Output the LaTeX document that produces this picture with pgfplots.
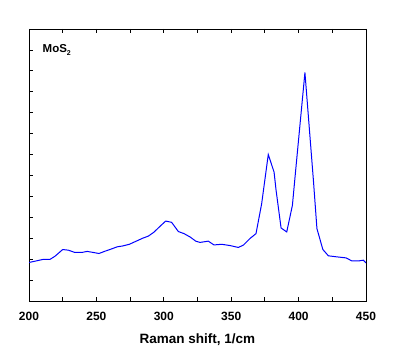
\documentclass[border=0pt]{standalone}
\usepackage{pgfplots}
\pgfplotsset{compat=1.18}
\usepackage{fontspec}
\setmainfont{Liberation Sans}
\begin{document}
\begin{tikzpicture}
\begin{axis}[name=ax,
  scale only axis, width=337pt, height=272pt,
  xmin=200, xmax=450, ymin=0, ymax=13,
  xtick={200,250,...,450}, minor xtick={225,275,...,425},
  ytick={0,1,...,13}, yticklabels={},
  xtick pos=both, ytick pos=left,
  tick align=inside,
  major tick length=4pt, minor tick length=4pt,
  every tick/.style={black, line width=0.8pt},
  axis line style={line width=0.9pt},
  /pgf/number format/assume math mode=true,
  tick label style={font=\fontsize{12}{14}\selectfont\bfseries},
  xticklabel style={yshift=-8pt},
  xlabel={Raman shift, 1/cm},
  xlabel style={font=\fontsize{13.5}{16}\selectfont\bfseries, yshift=-6pt},
]
\addplot[color=blue, line width=1pt] coordinates {
(200,1.84) (210.6,1.99) (215.6,1.99) (219.3,2.14) (225,2.46) (229.2,2.43)
(234,2.32) (239.1,2.32) (243.2,2.37) (247.7,2.32) (251.9,2.27) (256.4,2.38)
(260,2.46) (265.5,2.59) (269.5,2.63) (274.4,2.71) (279.9,2.87) (284.3,3.0)
(288.5,3.10) (292.7,3.29) (297.2,3.57) (301.4,3.82) (305.8,3.76) (310.8,3.32)
(315,3.22) (319.5,3.06) (323.7,2.86) (326.9,2.80) (333,2.86) (337.2,2.68)
(343,2.71) (349.1,2.65) (355.3,2.56) (359,2.67) (364,2.99) (368.4,3.22)
(372.6,4.65) (377.5,7.0) (381.8,6.16) (383.3,5.29) (387,3.49) (391.2,3.30)
(395.4,4.57) (397.7,6.16) (404.7,10.92) (411,5.76) (413.6,3.46) (418,2.46)
(422.1,2.16) (428.3,2.11) (435.2,2.06) (439.4,1.92) (445,1.92) (448,1.95)
(450,1.82)
};
\node[anchor=west, font=\fontsize{11.5}{13}\selectfont\bfseries, inner sep=0pt] at (rel axis cs:0.04,0.923) {MoS\raisebox{-3pt}{\fontsize{7}{8}\selectfont 2}};
\end{axis}
\pgfresetboundingbox
\path (ax.south west) ++(-29pt,-50pt) rectangle ++(400pt,351pt);
\end{tikzpicture}
\end{document}
